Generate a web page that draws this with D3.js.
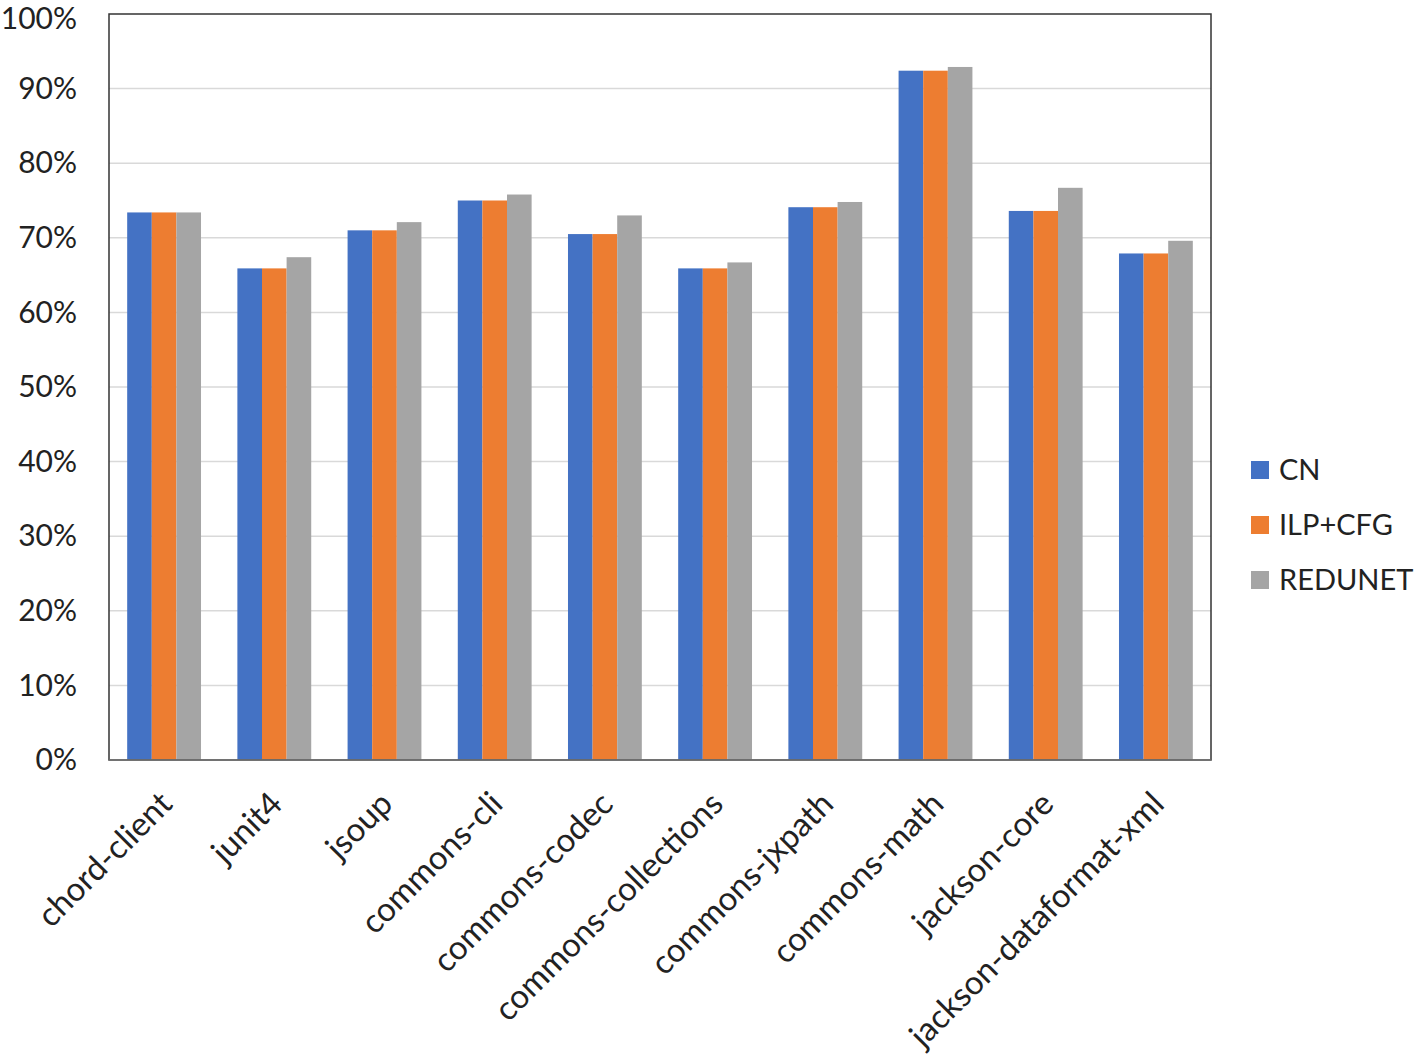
<!DOCTYPE html>
<html><head><meta charset="utf-8">
<script src="https://cdn.jsdelivr.net/npm/d3@7"></script>
<style>body{margin:0;background:#fff;} text{font-family:"Lato","Noto Sans",sans-serif;fill:#222;}</style>
</head><body>
<svg id="c" width="1416" height="1055"></svg>
<script>
const categories = ["chord-client","junit4","jsoup","commons-cli","commons-codec","commons-collections","commons-jxpath","commons-math","jackson-core","jackson-dataformat-xml"];
const seriesNames = ["CN","ILP+CFG","REDUNET"];
const cn      = [73.4, 65.9, 71.0, 75.0, 70.5, 65.9, 74.1, 92.4, 73.6, 67.9];
const ilpcfg  = [73.4, 65.9, 71.0, 75.0, 70.5, 65.9, 74.1, 92.4, 73.6, 67.9];
const redunet = [73.4, 67.4, 72.1, 75.8, 73.0, 66.7, 74.8, 92.9, 76.7, 69.6];
const yTicks = [0,10,20,30,40,50,60,70,80,90,100];
const colors = ["#4472C4","#ED7D31","#A5A5A5"];
const seriesValues = [cn, ilpcfg, redunet];

const svg = d3.select("#c");
const L=109, R=1211, T=14, B=760;
const x = d3.scaleBand().domain(categories).range([L,R]).paddingInner(0.33).paddingOuter(0.165);
const xs = d3.scaleBand().domain(seriesNames).range([0,x.bandwidth()]);
const y = d3.scaleLinear().domain([0,100]).range([B,T]);

// gridlines
svg.append("g").selectAll("line").data(yTicks.filter(d=>d>0&&d<100)).join("line")
  .attr("x1",L).attr("x2",R).attr("y1",d=>y(d)).attr("y2",d=>y(d))
  .attr("stroke","#d9d9d9").attr("stroke-width",1.5);

// bars
const g = svg.append("g").selectAll("g").data(categories).join("g")
  .attr("transform",d=>`translate(${x(d)},0)`);
g.selectAll("rect").data((d,i)=>seriesValues.map((s,k)=>({k,v:s[i]}))).join("rect")
  .attr("x",d=>xs(seriesNames[d.k])).attr("width",xs.bandwidth())
  .attr("y",d=>y(d.v)).attr("height",d=>B-y(d.v))
  .attr("fill",d=>colors[d.k]);

// frame
svg.append("rect").attr("x",L).attr("y",T).attr("width",R-L).attr("height",B-T)
  .attr("fill","none").attr("stroke","#333").attr("stroke-width",1.5);
svg.append("line").attr("x1",L).attr("x2",R).attr("y1",B).attr("y2",B).attr("stroke","#777").attr("stroke-width",1.5);

// y axis labels
const yAxis = d3.axisLeft(y).tickValues(yTicks).tickFormat(d=>d+"%").tickSize(0).tickPadding(32);
const ya = svg.append("g").attr("transform",`translate(${L},0)`).call(yAxis);
ya.select(".domain").remove();
ya.selectAll("text").style("font-size","30px").style("font-family","'Lato','Noto Sans',sans-serif").attr("fill","#222");
ya.selectAll(".tick").filter(d=>d===100).select("text").attr("dy","0.48em");

// x labels
const xAxis = d3.axisBottom(x).tickSize(0);
const xa = svg.append("g").attr("transform",`translate(0,${B})`).call(xAxis);
xa.select(".domain").remove();
xa.selectAll("text").style("font-size","33px").style("font-family","'Lato','Noto Sans',sans-serif").attr("fill","#222")
  .attr("text-anchor","end").attr("dy","0").attr("y",0)
  .attr("transform","translate(10,46) rotate(-45)");

// legend
const lg = svg.append("g").selectAll("g").data(seriesNames).join("g")
  .attr("transform",(d,i)=>`translate(1251,${461+i*55})`);
lg.append("rect").attr("width",18).attr("height",18).attr("fill",(d,i)=>colors[i]);
lg.append("text").attr("x",28).attr("y",9).attr("dy","0.35em").style("font-size","29px").text(d=>d);
</script>
</body></html>
